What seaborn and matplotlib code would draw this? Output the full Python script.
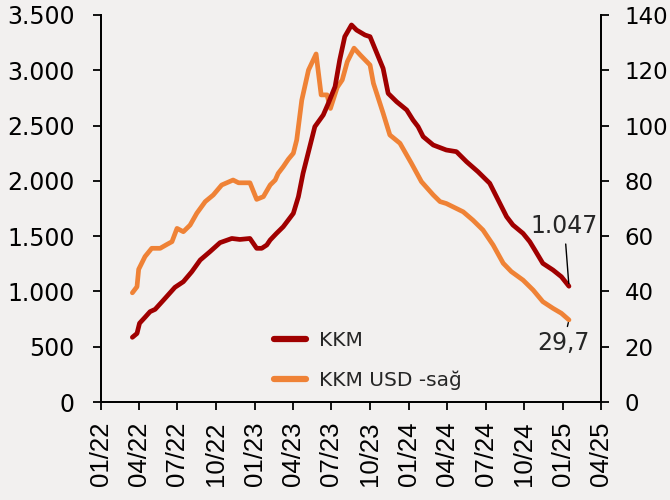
import pandas as pd
import seaborn as sns
import matplotlib.pyplot as plt
import matplotlib.dates as mdates
from matplotlib.lines import Line2D
from matplotlib.ticker import FuncFormatter

# KKM (left axis)
kkm_dates = ['2022-03-16', '2022-03-27', '2022-04-02', '2022-04-15', '2022-04-27', '2022-05-09',
             '2022-05-29', '2022-06-25', '2022-07-15', '2022-08-04', '2022-08-24', '2022-09-16',
             '2022-10-10', '2022-11-07', '2022-11-26', '2022-12-20', '2023-01-05', '2023-01-17',
             '2023-01-29', '2023-02-06', '2023-02-21', '2023-03-09', '2023-04-02', '2023-04-14',
             '2023-04-25', '2023-05-11', '2023-05-23', '2023-06-12', '2023-06-24', '2023-07-10',
             '2023-07-21', '2023-08-02', '2023-08-18', '2023-08-30', '2023-09-19', '2023-10-01',
             '2023-11-01', '2023-11-13', '2023-12-03', '2023-12-27', '2024-01-11', '2024-01-23',
             '2024-02-04', '2024-02-28', '2024-03-30', '2024-04-23', '2024-05-17', '2024-06-13',
             '2024-07-11', '2024-07-27', '2024-08-20', '2024-09-04', '2024-09-28', '2024-10-14',
             '2024-10-26', '2024-11-14', '2024-12-08', '2024-12-28', '2025-01-15']
kkm_values = [585, 620, 712, 766, 817, 838, 922, 1037, 1088, 1178, 1284, 1359,
              1441, 1479, 1470, 1479, 1390, 1390, 1420, 1465, 1525, 1585, 1706, 1857,
              2068, 2309, 2490, 2596, 2701, 2852, 3093, 3304, 3410, 3364, 3319, 3304,
              3017, 2791, 2716, 2641, 2550, 2490, 2400, 2324, 2279, 2264, 2173, 2083,
              1978, 1857, 1676, 1601, 1525, 1450, 1375, 1254, 1194, 1133, 1047]

# KKM USD (right axis)
usd_dates = ['2022-03-16', '2022-03-27', '2022-03-31', '2022-04-15', '2022-05-01', '2022-05-21',
             '2022-06-06', '2022-06-18', '2022-06-30', '2022-07-15', '2022-07-31', '2022-08-16',
             '2022-09-05', '2022-09-24', '2022-10-14', '2022-11-10', '2022-11-23', '2022-12-20',
             '2023-01-05', '2023-01-21', '2023-02-06', '2023-02-18', '2023-02-25', '2023-03-09',
             '2023-03-21', '2023-04-02', '2023-04-10', '2023-04-22', '2023-05-08', '2023-05-26',
             '2023-06-07', '2023-06-21', '2023-06-29', '2023-07-15', '2023-07-27', '2023-08-08',
             '2023-08-24', '2023-09-08', '2023-10-01', '2023-10-09', '2023-11-01', '2023-11-17',
             '2023-12-11', '2024-01-07', '2024-01-31', '2024-02-28', '2024-03-15', '2024-03-30',
             '2024-04-15', '2024-05-09', '2024-06-01', '2024-06-25', '2024-07-19', '2024-08-12',
             '2024-08-31', '2024-09-28', '2024-10-22', '2024-11-14', '2024-12-08', '2024-12-28',
             '2025-01-15']
usd_values = [39.5, 41.7, 48.0, 52.6, 55.6, 55.6, 57.0, 58.0, 62.8, 61.6, 64.0, 68.3,
              72.5, 74.9, 78.5, 80.3, 79.3, 79.3, 73.3, 74.3, 78.5, 80.3, 82.7, 85.1,
              87.8, 90.0, 94.8, 109.2, 120.1, 125.9, 111.1, 111.1, 106.2, 113.8, 116.5, 123.1,
              128.0, 125.5, 121.9, 115.3, 104.5, 96.6, 93.6, 86.4, 79.7, 74.9, 72.5, 71.8,
              70.6, 68.8, 65.8, 62.2, 56.8, 50.2, 47.2, 44.1, 40.5, 36.3, 33.9, 32.1, 29.7]

kkm_df = pd.DataFrame({'Date': pd.to_datetime(kkm_dates), 'KKM': kkm_values})
usd_df = pd.DataFrame({'Date': pd.to_datetime(usd_dates), 'USD': usd_values})

bg = '#f2f0ef'
red = '#a00000'
orange = '#ef8236'

sns.set_style('ticks')
plt.rcParams['font.family'] = ['DejaVu Sans']

fig, ax = plt.subplots(figsize = (6.7, 5), dpi = 100)
fig.patch.set_facecolor(bg)
ax.set_facecolor(bg)
plt.subplots_adjust(left = 0.151, right = 0.897, top = 0.97, bottom = 0.196)

ax2 = ax.twinx()
sns.lineplot(data = kkm_df, x = 'Date', y = 'KKM', ax = ax, color = red, linewidth = 3.4,
             solid_capstyle = 'round', zorder = 3)
sns.lineplot(data = usd_df, x = 'Date', y = 'USD', ax = ax2, color = orange, linewidth = 3.4,
             solid_capstyle = 'round', zorder = 2)
ax.set_zorder(ax2.get_zorder() + 1)
ax.patch.set_visible(False)
ax2.set_facecolor(bg)

ax.set_xlim(pd.Timestamp('2022-01-01'), pd.Timestamp('2025-04-01'))
ax.set_ylim(0, 3500)
ax2.set_ylim(0, 140)
ax.set_yticks(range(0, 3501, 500))
ax2.set_yticks(range(0, 141, 20))
ax.yaxis.set_major_formatter(FuncFormatter(lambda v, p: f'{int(v):,}'.replace(',', '.')))
ax.xaxis.set_major_locator(mdates.MonthLocator(bymonth = [1, 4, 7, 10]))
ax.xaxis.set_major_formatter(mdates.DateFormatter('%m/%y'))
ax.set_xlabel('')
ax.set_ylabel('')
ax2.set_ylabel('')

for a in (ax, ax2):
    a.spines['top'].set_visible(False)
    for s in a.spines.values():
        s.set_color('black')
        s.set_linewidth(1.3)
    a.tick_params(axis = 'both', direction = 'out', length = 6, width = 1.3, colors = 'black')
ax.tick_params(axis = 'y', labelsize = 17, pad = 13)
ax2.tick_params(axis = 'y', labelsize = 16.5, pad = 11)
ax.tick_params(axis = 'x', labelsize = 18.5, pad = 8, labelrotation = 90)
for lab in ax.get_xticklabels():
    lab.set_fontfamily('Liberation Sans')

# End value labels
ax.annotate('1.047', xy = (kkm_df['Date'].iloc[-1], kkm_values[-1]),
            xytext = (pd.Timestamp('2025-01-04'), 1592), ha = 'center', va = 'center',
            fontsize = 17, arrowprops = dict(arrowstyle = '-', color = 'black', lw = 1, shrinkA = 2, shrinkB = 2))
ax2.annotate('29,7', xy = (usd_df['Date'].iloc[-1], usd_values[-1]),
             xytext = (pd.Timestamp('2025-01-02'), 21.3), ha = 'center', va = 'center',
             fontsize = 17, arrowprops = dict(arrowstyle = '-', color = 'black', lw = 1, shrinkA = 1, shrinkB = 2))

handles = [Line2D([0], [0], color = red, lw = 4.5, solid_capstyle = 'round'),
           Line2D([0], [0], color = orange, lw = 4.5, solid_capstyle = 'round')]
ax.legend(handles, ['KKM', 'KKM USD -sağ'], loc = 'lower left', bbox_to_anchor = (0.31, -0.015),
          frameon = False, fontsize = 14.5, handlelength = 1.6, handletextpad = 0.6, labelspacing = 1.0)

plt.savefig('out.png', facecolor = bg)
